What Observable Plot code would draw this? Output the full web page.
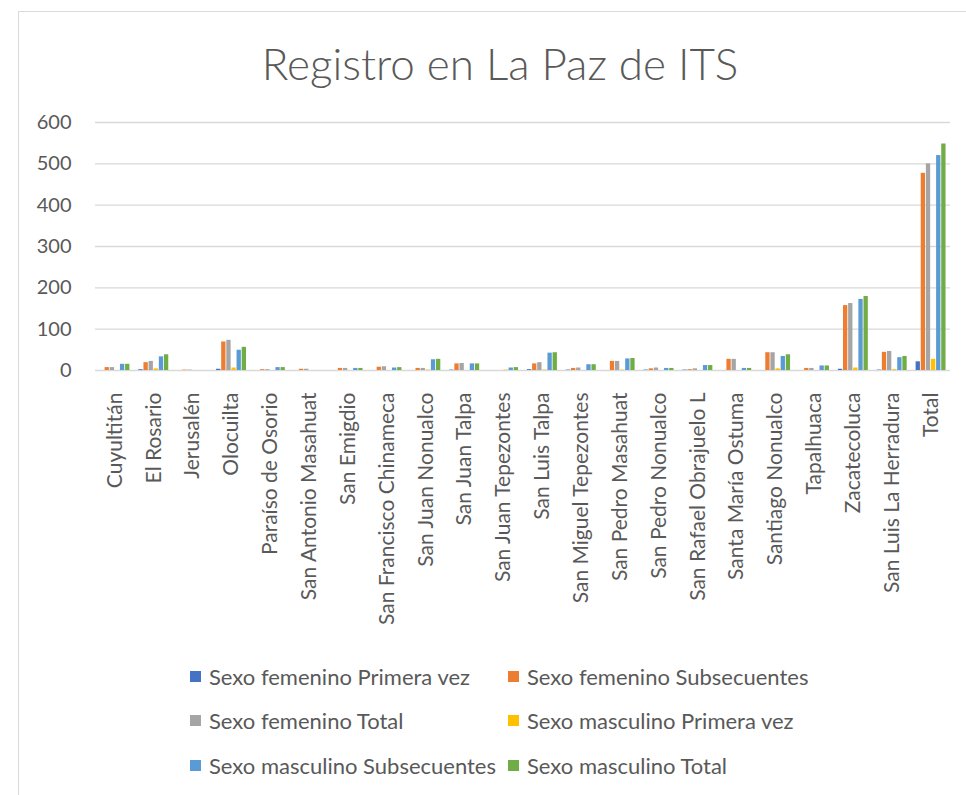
<!DOCTYPE html>
<html>
<head>
<meta charset="utf-8">
<script src="https://cdn.jsdelivr.net/npm/d3@7"></script>
<script src="https://cdn.jsdelivr.net/npm/@observablehq/plot@0.6"></script>
<style>
  html, body { margin: 0; padding: 0; background: #fff; width: 966px; height: 795px; overflow: hidden; }
  #frame { position: absolute; left: 18px; top: 11px; width: 970px; height: 800px; border: 1px solid #d9d9d9; box-sizing: border-box; }
  #title { position: absolute; left: 0; width: 1000px; top: 36px; text-align: center; font-family: Lato, sans-serif; font-size: 44px; font-weight: 300; color: #595959; line-height: 54px; }
  #chart { position: absolute; left: 0; top: 100px; }
  #legend { position: absolute; left: 190px; top: 654px; display: grid; grid-template-columns: 318px auto; grid-auto-rows: 44.5px; font-family: Lato, sans-serif; font-size: 22px; color: #595959; }
  .item { display: flex; align-items: center; white-space: nowrap; }
  .sw { width: 11px; height: 11px; margin-right: 8px; flex: none; }
</style>
</head>
<body>
<div id="frame"></div>
<div id="title">Registro en La Paz de ITS</div>
<div id="chart"></div>
<div id="legend"></div>
<script>
const categories = ["Cuyultitán","El Rosario","Jerusalén","Olocuilta","Paraíso de Osorio","San Antonio Masahuat","San Emigdio","San Francisco Chinameca","San Juan Nonualco","San Juan Talpa","San Juan Tepezontes","San Luis Talpa","San Miguel Tepezontes","San Pedro Masahuat","San Pedro Nonualco","San Rafael Obrajuelo L","Santa María Ostuma","Santiago Nonualco","Tapalhuaca","Zacatecoluca","San Luis La Herradura","Total"];

const seriesNames = ["Sexo femenino Primera vez","Sexo femenino Subsecuentes","Sexo femenino Total","Sexo masculino Primera vez","Sexo masculino Subsecuentes","Sexo masculino Total"];
const seriesColors = ["#4472C4","#ED7D31","#A5A5A5","#FFC000","#5B9BD5","#70AD47"];

const femeninoPrimeraVez   = [0, 2, 0, 3, 0, 0, 0, 0, 0, 1, 0, 2, 1, 0, 1, 1, 0, 0, 0, 3, 1, 21];
const femeninoSubsecuentes = [7, 19, 1, 69, 2, 3, 5, 8, 5, 16, 0, 16, 5, 22, 4, 2, 27, 43, 5, 157, 44, 477];
const femeninoTotal        = [7, 22, 1, 73, 2, 3, 5, 9, 5, 17, 0, 19, 6, 22, 6, 4, 27, 43, 5, 162, 46, 500];
const masculinoPrimeraVez  = [0, 4, 0, 6, 0, 0, 0, 0, 1, 0, 1, 1, 0, 1, 0, 0, 0, 4, 0, 6, 2, 27];
const masculinoSubsecuentes= [15, 33, 0, 49, 7, 0, 5, 6, 26, 16, 6, 42, 14, 28, 5, 12, 5, 34, 11, 172, 31, 520];
const masculinoTotal       = [15, 38, 0, 56, 7, 0, 5, 7, 27, 16, 7, 43, 14, 29, 5, 12, 5, 38, 11, 179, 34, 548];

const yTicks = [0, 100, 200, 300, 400, 500, 600];

const seriesValues = [femeninoPrimeraVez, femeninoSubsecuentes, femeninoTotal, masculinoPrimeraVez, masculinoSubsecuentes, masculinoTotal];

// band layout: each category band holds 6 adjacent bars
const marginLeft = 95, marginRight = 16, width = 966;
const padInner = 0.23, padOuter = 0.115;
const step = (width - marginLeft - marginRight) / (categories.length - padInner + 2 * padOuter);
const bandwidth = step * (1 - padInner);
const barStep = bandwidth / (seriesNames.length - 0.16);
const barWidth = barStep * 0.84;

const barMarks = seriesNames.map((s, j) => Plot.barY(
  categories.map((c, i) => ({cat: c, serie: s, value: seriesValues[j][i]})),
  {
    x: "cat", y: "value", fill: seriesColors[j],
    insetLeft: j * barStep,
    insetRight: bandwidth - j * barStep - barWidth
  }
));

const chart = Plot.plot({
  width,
  height: 510,
  marginTop: 22,
  marginBottom: 240,
  marginLeft,
  marginRight,
  style: {fontFamily: "Lato, sans-serif", fontSize: "21px", color: "#595959", background: "transparent", overflow: "visible"},
  x: {domain: categories, paddingInner: padInner, paddingOuter: padOuter, round: false, label: null, tickRotate: -90, tickSize: 0, tickPadding: 22},
  y: {domain: [0, 600], ticks: yTicks, label: null, axis: null},
  marks: [
    Plot.ruleY(yTicks, {stroke: "#d9d9d9", strokeWidth: 1.3}),
    Plot.text(yTicks, {y: d => d, text: d => String(d), frameAnchor: "left", textAnchor: "end", dx: -24, fill: "#595959", fontSize: 20}),
    ...barMarks
  ]
});
document.getElementById("chart").appendChild(chart);

const legend = document.getElementById("legend");
seriesNames.forEach((s, j) => {
  const item = document.createElement("div");
  item.className = "item";
  const sw = document.createElement("span");
  sw.className = "sw";
  sw.style.background = seriesColors[j];
  const t = document.createElement("span");
  t.textContent = s;
  item.appendChild(sw);
  item.appendChild(t);
  legend.appendChild(item);
});
</script>
</body>
</html>
